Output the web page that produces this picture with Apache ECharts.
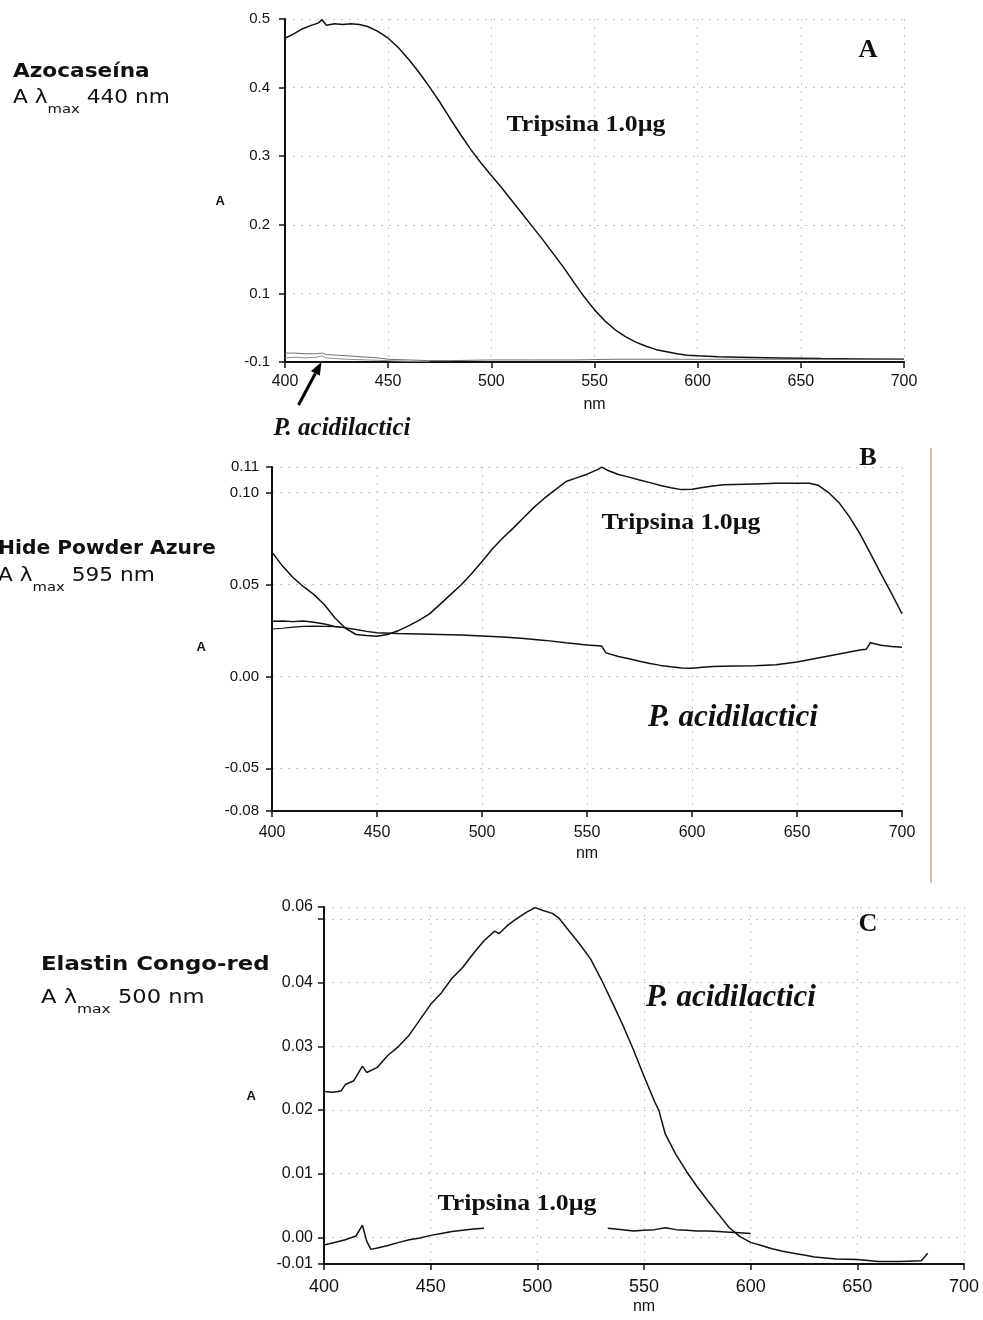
<!DOCTYPE html>
<html>
<head>
<meta charset="utf-8">
<script src="https://cdn.jsdelivr.net/npm/echarts@6/dist/echarts.min.js"></script>
<style>
  html, body { margin: 0; padding: 0; background: #fff; }
  #chart { width: 983px; height: 1320px; }
</style>
</head>
<body>
<div id="chart"></div>
<script>
// Wavelength ticks shared by the three spectra (nm)
const nmTicks = [400, 450, 500, 550, 600, 650, 700];

// ---- Panel A: Azocaseína ----
const aTickValues = [0, 0.1, 0.2, 0.3, 0.4, 0.5];
const aTickLabels = ['-0.1', '0.1', '0.2', '0.3', '0.4', '0.5'];
const tripsinaA = [
  [400, 0.472], [404, 0.478], [408, 0.485], [412, 0.490], [416, 0.494], [418, 0.499],
  [420, 0.491], [424, 0.493], [428, 0.492], [432, 0.493], [436, 0.492], [440, 0.489],
  [445, 0.482], [450, 0.472], [455, 0.458], [460, 0.441], [465, 0.422], [470, 0.401],
  [475, 0.379], [480, 0.355], [485, 0.332], [490, 0.310], [495, 0.290], [500, 0.272],
  [505, 0.254], [510, 0.235], [515, 0.216], [520, 0.197], [525, 0.178], [530, 0.158],
  [535, 0.138], [540, 0.116], [545, 0.095], [550, 0.076], [555, 0.060], [560, 0.047],
  [565, 0.037], [570, 0.029], [575, 0.023], [580, 0.018], [585, 0.015], [590, 0.012],
  [595, 0.010], [600, 0.009], [610, 0.0075], [620, 0.007], [640, 0.006], [660, 0.005],
  [680, 0.0045], [700, 0.004]
];
const pacidA = [
  [400, 0.013], [405, 0.013], [410, 0.012], [415, 0.012], [418, 0.013], [420, 0.011],
  [425, 0.010], [430, 0.009], [435, 0.008], [440, 0.007], [445, 0.006], [450, 0.004],
  [460, 0.003], [470, 0.002], [480, 0.002], [500, 0.003], [520, 0.003], [540, 0.003],
  [560, 0.004], [580, 0.004], [600, 0.004], [620, 0.004], [640, 0.004], [660, 0.004],
  [680, 0.004], [700, 0.004]
];
const pacidA2 = [
  [400, 0.006], [405, 0.007], [410, 0.006], [415, 0.007], [418, 0.009], [420, 0.006],
  [425, 0.005], [430, 0.004], [440, 0.003], [450, 0.002], [460, 0.001], [470, 0.001]
];

// ---- Panel B: Hide Powder Azure ----
const bTickValues = [-0.0732, -0.05, 0, 0.05, 0.10, 0.1139];
const bTickLabels = ['-0.08', '-0.05', '0.00', '0.05', '0.10', '0.11'];
const tripsinaB = [
  [400, 0.0676], [405, 0.0600], [410, 0.0538], [415, 0.0488], [420, 0.0445], [425, 0.0390],
  [430, 0.0318], [435, 0.0262], [440, 0.0228], [445, 0.0222], [450, 0.0219], [455, 0.0228],
  [460, 0.0248], [465, 0.0275], [470, 0.0305], [475, 0.0340], [480, 0.0392], [485, 0.0445],
  [490, 0.0497], [495, 0.0558], [500, 0.0625], [505, 0.0694], [510, 0.0754], [515, 0.0808],
  [520, 0.0866], [525, 0.0922], [530, 0.0972], [535, 0.1016], [540, 0.1060], [545, 0.1080],
  [550, 0.1100], [555, 0.1125], [557, 0.1138], [560, 0.1120], [565, 0.1098], [570, 0.1084],
  [575, 0.1068], [580, 0.1054], [585, 0.1038], [590, 0.1026], [595, 0.1016], [600, 0.1018],
  [605, 0.1027], [610, 0.1036], [615, 0.1042], [620, 0.1044], [630, 0.1047], [640, 0.1050],
  [650, 0.1051], [656, 0.1051], [660, 0.1040], [665, 0.1000], [670, 0.0945], [675, 0.0868],
  [680, 0.0775], [685, 0.0668], [690, 0.0558], [695, 0.0452], [700, 0.0341]
];
const pacidB = [
  [400, 0.0300], [405, 0.0302], [410, 0.0298], [415, 0.0301], [420, 0.0295], [425, 0.0285],
  [430, 0.0272], [435, 0.0264], [440, 0.0255], [445, 0.0245], [450, 0.0238], [460, 0.0234],
  [470, 0.0231], [480, 0.0228], [490, 0.0225], [500, 0.0220], [510, 0.0214], [520, 0.0206],
  [530, 0.0196], [540, 0.0183], [550, 0.0171], [557, 0.0165], [559, 0.0128], [565, 0.0108],
  [570, 0.0096], [575, 0.0083], [580, 0.0070], [585, 0.0060], [590, 0.0052], [595, 0.0046],
  [600, 0.0045], [605, 0.0050], [610, 0.0054], [620, 0.0056], [630, 0.0058], [640, 0.0063],
  [650, 0.0078], [660, 0.0100], [670, 0.0122], [680, 0.0144], [683, 0.0148], [685, 0.0183],
  [690, 0.0170], [695, 0.0163], [700, 0.0159]
];
const pacidB2 = [
  [400, 0.0258], [405, 0.0262], [410, 0.0268], [415, 0.0272], [420, 0.0274], [425, 0.0272],
  [430, 0.0270], [435, 0.0266]
];

// ---- Panel C: Elastin Congo-red ----
const cTickValues = [-0.0042, 0, 0.01, 0.02, 0.03, 0.04, 0.0519];
const cTickLabels = ['-0.01', '0.00', '0.01', '0.02', '0.03', '0.04', '0.06'];
const pacidC = [
  [400, 0.0229], [404, 0.0228], [408, 0.0230], [410, 0.0240], [414, 0.0246], [418, 0.0269],
  [420, 0.0259], [425, 0.0267], [430, 0.0286], [435, 0.0300], [440, 0.0318], [445, 0.0342],
  [450, 0.0366], [455, 0.0384], [460, 0.0407], [465, 0.0424], [470, 0.0446], [475, 0.0466],
  [480, 0.0481], [482, 0.0477], [486, 0.0490], [490, 0.0500], [495, 0.0511], [499, 0.0518],
  [503, 0.0513], [507, 0.0509], [510, 0.0502], [515, 0.0481], [520, 0.0460], [525, 0.0437],
  [530, 0.0405], [535, 0.0370], [540, 0.0334], [545, 0.0295], [550, 0.0253], [555, 0.0213],
  [557, 0.0199], [560, 0.0162], [565, 0.0130], [570, 0.0103], [575, 0.0079], [580, 0.0057],
  [585, 0.0036], [590, 0.0015], [595, 0.0001], [600, -0.0008], [605, -0.0013], [610, -0.0018],
  [615, -0.0022], [620, -0.0025], [625, -0.0028], [630, -0.0031], [640, -0.0034], [650, -0.0035],
  [660, -0.0038], [670, -0.0038], [680, -0.0037], [683, -0.0025]
];
const tripsinaC = [
  [400, -0.0012], [404, -0.0009], [410, -0.0004], [415, 0.0002], [418, 0.0019], [420, -0.0006],
  [422, -0.0019], [425, -0.0017], [430, -0.0013], [435, -0.0008], [440, -0.0004], [445, -0.0001],
  [450, 0.0003], [455, 0.0006], [460, 0.0009], [465, 0.0011], [470, 0.0013], [475, 0.0014],
  [476, '-'],
  [533, 0.0014], [540, 0.0012], [545, 0.0010], [550, 0.0011], [555, 0.0012], [560, 0.0015],
  [565, 0.0012], [570, 0.0011], [575, 0.0010], [580, 0.0010], [585, 0.0009], [590, 0.0008],
  [595, 0.0007], [600, 0.0006]
];

const SANS = '"Liberation Sans", Arial, sans-serif';
const SERIF = '"Liberation Serif", "Times New Roman", serif';
const WIDE = '"DejaVu Sans", Verdana, sans-serif';
const INK = '#111';

// Tick text lookup: each axis shows its own printed label at each tick position
function tickText(values, labels) {
  return function (v) {
    for (let i = 0; i < values.length; i++) {
      if (Math.abs(values[i] - v) < 1e-6) return labels[i];
    }
    return '';
  };
}

const gridLine = { show: true, lineStyle: { color: '#c4c4c4', type: [2, 6], width: 1 } };
const axisLineStyle = { show: true, onZero: false, lineStyle: { color: INK, width: 2 } };
const tickStyle = { show: true, inside: false, length: 6, lineStyle: { color: INK, width: 1.5 } };

function xAxisFor(gridIndex, fontSize, margin) {
  return {
    type: 'value', gridIndex,
    min: nmTicks[0], max: nmTicks[nmTicks.length - 1], interval: nmTicks[1] - nmTicks[0],
    name: 'nm', nameLocation: 'middle', nameGap: 35,
    nameTextStyle: { fontFamily: SANS, fontSize: 16, color: INK },
    axisLine: axisLineStyle, axisTick: tickStyle, splitLine: gridLine,
    axisLabel: { fontFamily: SANS, fontSize, color: INK, margin, showMinLabel: true, showMaxLabel: true }
  };
}

function yAxisFor(gridIndex, values, labels, opts) {
  const axis = {
    type: 'value', gridIndex,
    min: values[0], max: values[values.length - 1],
    name: 'A', nameLocation: 'middle', nameRotate: 0, nameGap: opts.nameGap,
    nameTextStyle: {
      fontFamily: SANS, fontSize: 13, fontWeight: 'bold', color: INK,
      verticalAlign: 'top', lineHeight: opts.nameDrop * 2
    },
    axisLine: axisLineStyle, axisTick: tickStyle, splitLine: gridLine,
    axisLabel: {
      fontFamily: SANS, fontSize: opts.fontSize, color: INK, margin: opts.margin,
      showMinLabel: true, showMaxLabel: true, formatter: tickText(values, labels)
    }
  };
  if (opts.interval) axis.interval = opts.interval; else axis.splitNumber = opts.splitNumber;
  return axis;
}

function line(name, data, xi, color, width) {
  return {
    type: 'line', name, data, xAxisIndex: xi, yAxisIndex: xi,
    showSymbol: false, symbol: 'none', connectNulls: false, silent: true,
    lineStyle: { color, width }
  };
}

// Free text placed on the page (labels beside and inside the panels)
function text(str, x, y, font, opts) {
  opts = opts || {};
  return {
    type: 'text', x, y, scaleX: opts.sx || 1, z: 10, silent: true,
    style: { text: str, font, fill: INK, align: opts.align || 'center', verticalAlign: 'middle' }
  };
}

// "A λmax ### nm" with a lowered subscript
function lambdaLine(peak, x, y, sx) {
  return {
    type: 'text', x, y, scaleX: sx, z: 10, silent: true,
    style: {
      text: '{m|A λ}{s|max}{m| ' + peak + ' nm}',
      align: 'left', verticalAlign: 'middle', fill: INK,
      rich: {
        m: { fontFamily: WIDE, fontSize: 19, lineHeight: 36, verticalAlign: 'middle', fill: INK },
        s: { fontFamily: WIDE, fontSize: 13, lineHeight: 13, verticalAlign: 'bottom', fill: INK }
      }
    }
  };
}

// Arrow pointing at the P. acidilactici trace in panel A
function arrow(tail, tip, headLen, headHalf) {
  const dx = tip[0] - tail[0], dy = tip[1] - tail[1];
  const len = Math.hypot(dx, dy), ux = dx / len, uy = dy / len;
  const bx = tip[0] - headLen * ux, by = tip[1] - headLen * uy;
  return [
    { type: 'line', z: 10, silent: true, shape: { x1: tail[0], y1: tail[1], x2: bx, y2: by },
      style: { stroke: '#000', lineWidth: 3 } },
    { type: 'polygon', z: 10, silent: true,
      shape: { points: [tip, [bx - headHalf * uy, by + headHalf * ux], [bx + headHalf * uy, by - headHalf * ux]] },
      style: { fill: '#000' } }
  ];
}

const boldSans = 'bold 19.5px ' + WIDE;
const boldSerif = 'bold 23px ' + SERIF;
const italicSerif = (px) => 'italic bold ' + px + 'px ' + SERIF;
const letterFont = 'bold 25px ' + SERIF;

const graphics = [
  text('Azocaseína', 13, 72, boldSans, { align: 'left', sx: 1.11 }),
  lambdaLine(440, 13, 98, 1.14),
  text('Hide Powder Azure', -2, 549, boldSans, { align: 'left', sx: 1.04 }),
  lambdaLine(595, -2, 576, 1.14),
  text('Elastin Congo-red', 41, 965, boldSans, { align: 'left', sx: 1.17 }),
  lambdaLine(500, 41, 998, 1.19),

  text('A', 868, 51, letterFont, { sx: 1.05 }),
  text('B', 868, 459, letterFont, { sx: 1.05 }),
  text('C', 868, 925, letterFont, { sx: 1.05 }),

  text('Tripsina 1.0µg', 586, 125, boldSerif, { sx: 1.12 }),
  text('Tripsina 1.0µg', 681, 523, boldSerif, { sx: 1.12 }),
  text('Tripsina 1.0µg', 517, 1204, boldSerif, { sx: 1.12 }),

  text('P. acidilactici', 342, 429, italicSerif(25)),
  text('P. acidilactici', 733, 718, italicSerif(31)),
  text('P. acidilactici', 731, 998, italicSerif(31)),

  ...arrow([298.5, 405], [321.5, 362], 13, 5),

  { type: 'line', z: 10, silent: true, shape: { x1: 931, y1: 448, x2: 931, y2: 883 },
    style: { stroke: '#e06a6a', lineWidth: 1 } }
];

const option = {
  backgroundColor: '#fff',
  animation: false,
  grid: [
    { left: 285, top: 19, width: 619, height: 343, outerBoundsMode: 'none' },
    { left: 272, top: 467, width: 630, height: 344, outerBoundsMode: 'none' },
    { left: 324, top: 907, width: 640, height: 357, outerBoundsMode: 'none' }
  ],
  xAxis: [
    xAxisFor(0, 16, 12),
    xAxisFor(1, 16, 14),
    xAxisFor(2, 18, 14)
  ],
  yAxis: [
    yAxisFor(0, aTickValues, aTickLabels, { interval: 0.1, fontSize: 15, margin: 15, nameGap: 60, nameDrop: 11 }),
    yAxisFor(1, bTickValues, bTickLabels, { splitNumber: 4, fontSize: 15, margin: 13, nameGap: 66, nameDrop: 8 }),
    yAxisFor(2, cTickValues, cTickLabels, { splitNumber: 5, fontSize: 16, margin: 11, nameGap: 68, nameDrop: 11 })
  ],
  series: [
    line('Tripsina 1.0µg', tripsinaA, 0, INK, 1.5),
    line('P. acidilactici', pacidA, 0, '#707070', 1),
    line('P. acidilactici (2)', pacidA2, 0, '#8c8c8c', 1),
    line('Tripsina 1.0µg', tripsinaB, 1, INK, 1.5),
    line('P. acidilactici', pacidB, 1, INK, 1.5),
    line('P. acidilactici (2)', pacidB2, 1, INK, 1.2),
    line('P. acidilactici', pacidC, 2, INK, 1.5),
    line('Tripsina 1.0µg', tripsinaC, 2, INK, 1.5)
  ],
  graphic: graphics
};

const chart = echarts.init(document.getElementById('chart'), null, { renderer: 'canvas' });
chart.setOption(option);
</script>
</body>
</html>
